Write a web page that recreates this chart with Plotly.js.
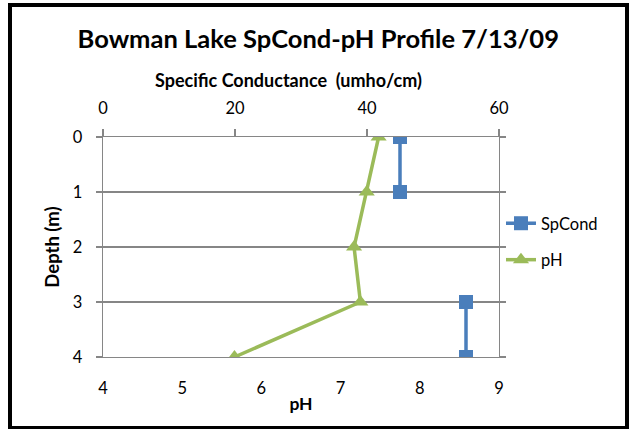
<!DOCTYPE html>
<html>
<head>
<meta charset="utf-8">
<script src="https://cdn.plot.ly/plotly-3.0.1.min.js"></script>
<style>
html,body{margin:0;padding:0;background:#fff;}
#wrap{position:relative;width:629px;height:429px;overflow:hidden;}
#chart{width:629px;height:429px;}
#frame{position:absolute;left:8px;top:3px;width:613px;height:419px;border:4px solid #000;border-bottom-width:3px;pointer-events:none;}
</style>
</head>
<body>
<div id="wrap"><div id="chart"></div><div id="frame"></div></div>
<script>
const depth = [0, 1, 2, 3, 4];
const spCond = [45, 45, null, 55, 55];
const pH = [7.48, 7.33, 7.17, 7.25, 5.66];
const depthTicks = [0, 1, 2, 3, 4];
const spCondTicks = [0, 20, 40, 60];
const pHTicks = [4, 5, 6, 7, 8, 9];

const FONT = 'Lato, "Open Sans", sans-serif';
const GRID = '#868686';
const TF = 16.5;
const AF = 18.5;

const traces = [
  {
    x: spCond, y: depth, name: 'SpCond', xaxis: 'x2', yaxis: 'y',
    type: 'scatter', mode: 'lines+markers', connectgaps: false,
    line: {color: '#4A7EBB', width: 3.5},
    marker: {symbol: 'square', size: 14, color: '#4A7EBB'},
    legendgroup: 'a'
  },
  {
    x: pH, y: depth, name: 'pH', xaxis: 'x', yaxis: 'y',
    type: 'scatter', mode: 'lines+markers',
    line: {color: '#9BBB59', width: 3.5},
    marker: {symbol: 'triangle-up', size: 14, color: '#9BBB59'},
    legendgroup: 'b'
  }
];

const layout = {
  width: 629, height: 429,
  margin: {l: 103, r: 130, t: 137, b: 72},
  paper_bgcolor: '#fff', plot_bgcolor: '#fff',
  font: {family: FONT, color: '#000', size: TF},
  title: {text: '<b>Bowman Lake SpCond-pH Profile 7/13/09</b>', font: {family: FONT, size: 25.5, color: '#000'},
          x: 0.506, xanchor: 'center', y: 0.91, yanchor: 'middle'},
  showlegend: true,
  legend: {x: 1.005, xanchor: 'left', y: 0.525, yanchor: 'middle', traceorder: 'grouped', tracegroupgap: 12,
           font: {family: FONT, size: TF, color: '#000'}, bgcolor: 'rgba(0,0,0,0)'},
  annotations: [{
    text: '<b>Specific Conductance  (umho/cm)</b>', xref: 'paper', yref: 'paper',
    x: 0.468, y: 1.259, xanchor: 'center', yanchor: 'middle', showarrow: false,
    font: {family: FONT, size: 18, color: '#000'}
  }],
  xaxis: {
    range: [4, 9], tickvals: pHTicks, ticks: '', showgrid: false, zeroline: false,
    showline: true, linecolor: GRID, linewidth: 1.3,
    ticklabelstandoff: 16,
    tickfont: {family: FONT, size: TF, color: '#000'},
    title: {text: '<b>pH</b>', font: {family: FONT, size: 17.5, color: '#000'}, standoff: 0}
  },
  xaxis2: {
    range: [0, 60], tickvals: spCondTicks, overlaying: 'x', side: 'top', anchor: 'y',
    ticks: 'outside', ticklen: 7, tickcolor: GRID, tickwidth: 1.3, showgrid: false, zeroline: false,
    showline: true, linecolor: GRID, linewidth: 1.3,
    ticklabelstandoff: 8,
    tickfont: {family: FONT, size: TF, color: '#000'}
  },
  xaxis3: {
    range: [4, 9], tickvals: [5, 6, 7, 8], overlaying: 'x', side: 'top', anchor: 'y',
    ticks: 'outside', ticklen: 7, tickcolor: GRID, tickwidth: 1.3, showticklabels: false,
    showgrid: false, zeroline: false, showline: false
  },
  yaxis: {
    range: [4, 0], tickvals: depthTicks, ticks: 'outside', ticklen: 6, tickcolor: GRID, tickwidth: 1.3,
    showgrid: true, gridcolor: GRID, gridwidth: 1.3, zeroline: false,
    showline: true, linecolor: GRID, linewidth: 1.3, mirror: 'ticks',
    ticklabelstandoff: 10,
    tickfont: {family: FONT, size: TF, color: '#000'},
    title: {text: '<b>Depth (m)</b>', font: {family: FONT, size: AF, color: '#000'}, standoff: 8}
  }
};

Plotly.newPlot('chart', traces, layout, {displayModeBar: false, staticPlot: true});
</script>
</body>
</html>
